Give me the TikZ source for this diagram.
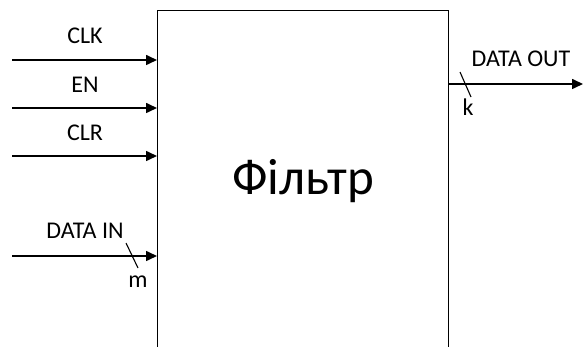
\documentclass[tikz,border=0pt]{standalone}
\usepackage{fontspec}
\setmainfont{Carlito}
\usetikzlibrary{arrows.meta}
\begin{document}
\begin{tikzpicture}[x=1pt,y=-1pt,
  sig/.style={line width=1.6pt,-{Triangle[length=11pt,width=10pt]}},
  lbl/.style={font=\fontsize{24}{26}\selectfont,inner sep=0pt,anchor=base},
  slash/.style={line width=1.1pt}]
\useasboundingbox (0,0) rectangle (583,347);
\clip (0,0) rectangle (583,347);
\node[draw,line width=1.1pt,minimum width=291pt,minimum height=360pt,anchor=north west,inner sep=0pt] (filter) at (157,10) {};
\node[font=\fontsize{51}{54}\selectfont,inner sep=0pt,anchor=base] (name) at (303,195) {Фільтр};
% inputs
\coordinate (clkS) at (12,60);
\coordinate (enS) at (12,108);
\coordinate (clrS) at (12,156);
\coordinate (dinS) at (12,256);
\draw[sig] (clkS) -- (clkS -| filter.west);
\draw[sig] (enS) -- (enS -| filter.west);
\draw[sig] (clrS) -- (clrS -| filter.west);
\draw[sig] (dinS) -- (dinS -| filter.west);
\node[lbl] (clk) at (85,44) {CLK};
\node[lbl] (en) at (85,93) {EN};
\node[lbl] (clr) at (85,141) {CLR};
\node[lbl] (din) at (85,239) {DATA IN};
\coordinate (s1a) at (126,243);
\coordinate (s1b) at (138,268);
\draw[slash] (s1a) -- (s1b);
\node[lbl] (m) at (138,287) {m};
% output
\coordinate (doutE) at (583,84);
\draw[sig] (doutE -| filter.east) -- (doutE);
\node[lbl] (dout) at (521,67) {DATA OUT};
\coordinate (s2a) at (460,72);
\coordinate (s2b) at (471,97);
\draw[slash] (s2a) -- (s2b);
\node[lbl] (k) at (468,116) {k};
\end{tikzpicture}
\end{document}
